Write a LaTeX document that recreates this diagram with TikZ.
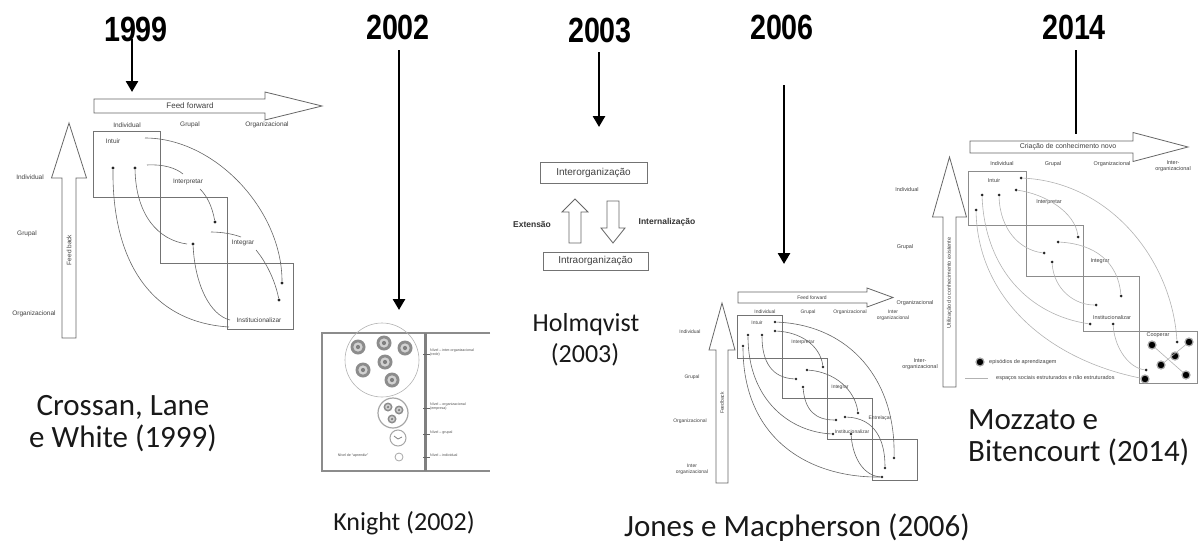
\documentclass[tikz,border=0pt]{standalone}
\usepackage{fontspec}
\usepackage{graphicx}
\setmainfont{Carlito}
\newfontfamily\yrfont{Liberation Sans}
\newfontfamily\smfont{Liberation Sans}
\usetikzlibrary{arrows.meta}
\newcommand\bkH[6]{\draw[barrow] (#1,#4-#5) -- (#2,#4-#5) -- (#2,#4-#6) -- (#3,#4) -- (#2,#4+#6) -- (#2,#4+#5) -- (#1,#4+#5) -- cycle;}
\newcommand\bkV[6]{\draw[barrow] (#1-#5,#2) -- (#1-#5,#3) -- (#1-#6,#3) -- (#1,#4) -- (#1+#6,#3) -- (#1+#5,#3) -- (#1+#5,#2) -- cycle;}
\newcommand\kfl[3]{\fill[black!45] (#1,#2) circle (#3); \fill[black!18] (#1,#2) circle (0.62*#3); \fill[black!50] (#1,#2) circle (0.28*#3);}
\begin{document}
\begin{tikzpicture}[x=1pt,y=-1pt,
  yr/.style={font=\yrfont\bfseries\fontsize{35}{35}\selectfont,inner sep=0},
  captxt/.style={font=\fontsize{31}{38}\selectfont,inner sep=0,text=black!90},
  capsm/.style={font=\fontsize{26}{31}\selectfont,inner sep=0,text=black!90},
  yarrow/.style={line width=2.6pt,-{Triangle[length=11pt,width=12pt]}},
  barrow/.style={draw=black!60,line width=0.8pt,fill=white,line join=miter},
  bx/.style={draw=black!55,line width=1pt},
  cv/.style={draw=black!60,line width=0.6pt},
  gcv/.style={draw=black!30,line width=0.6pt},
  dot/.style={circle,fill=black!85,inner sep=0,minimum size=3.2pt},
  bdot/.style={circle,fill=black,inner sep=0,minimum size=8pt,draw=black!35,line width=1.2pt},
  la/.style={font=\smfont\fontsize{6.5}{7.5}\selectfont,text=black!75,inner sep=0},
  lj/.style={font=\smfont\fontsize{5}{6}\selectfont,text=black!75,inner sep=0,align=center},
  lm/.style={font=\smfont\fontsize{5.5}{6.5}\selectfont,text=black!75,inner sep=0,align=center},
  lk/.style={font=\smfont\fontsize{3.6}{4.3}\selectfont,text=black!70,inner sep=0,align=left},
  lh/.style={font=\smfont\fontsize{10}{12}\selectfont,text=black!75,inner sep=0},
  lhb/.style={font=\smfont\bfseries\fontsize{8.5}{10}\selectfont,text=black!80,inner sep=0},
]
\useasboundingbox (0,0) rectangle (1200,544);

% ---------------- years and arrows
\node[yr] (t99) at (136,29) {\scalebox{0.82}[1]{1999}};
\node[yr] (t02) at (398,27) {\scalebox{0.82}[1]{2002}};
\node[yr] (t03) at (600,30) {\scalebox{0.82}[1]{2003}};
\node[yr] (t06) at (782,27) {\scalebox{0.82}[1]{2006}};
\node[yr] (t14) at (1074,27) {\scalebox{0.82}[1]{2014}};
\coordinate (s99) at (132,39); \coordinate (e99) at (132,92);
\coordinate (s02) at (399,50); \coordinate (e02) at (399,310);
\coordinate (s03) at (599,52); \coordinate (e03) at (599,127);
\coordinate (s06) at (784,85); \coordinate (e06) at (784,264);
\coordinate (s14) at (1076,50); \coordinate (e14) at (1076,134);
\draw[yarrow] (s99) -- (e99);
\draw[yarrow] (s02) -- (e02);
\draw[yarrow] (s03) -- (e03);
\draw[yarrow] (s06) -- (e06);
\draw[line width=2.6pt] (s14) -- (e14);

% ---------------- Crossan, Lane e White (1999)
\bkH{94}{265}{322}{106}{7}{14}
\node[la,font=\smfont\fontsize{8}{9}\selectfont] (cff) at (190,106) {Feed forward};
\node[la] (ccol1) at (127,125) {Individual};
\node[la] (ccol2) at (190,125) {Grupal};
\node[la] (ccol3) at (267,125) {Organizacional};
\bkV{69}{338}{178}{123}{7}{17.5}
\node[la,rotate=90] (cfb) at (69,250) {Feed back};
\node[la] (crow1) at (30,177) {Individual};
\node[la] (crow2) at (27,234) {Grupal};
\node[la] (crow3) at (34,314) {Organizacional};
\draw[bx] (93,131) rectangle (160,197);
\draw[bx] (160,197) rectangle (227,263);
\draw[bx] (227,263) rectangle (293,329);
\node[la] (ci1) at (113,141) {Intuir};
\node[la] (ci2) at (188,182) {Interpretar};
\node[la] (ci3) at (243,243) {Integrar};
\node[la] (ci4) at (259,320) {Institucionalizar};
\node[dot] (cd1) at (113,168) {};
\node[dot] (cd2) at (135,168) {};
\node[dot] (cd3) at (215,222) {};
\node[dot] (cd4) at (193,244) {};
\node[dot] (cd5) at (282,283) {};
\node[dot] (cd6) at (279,300) {};
\coordinate (cA) at (145,138);
\coordinate (cB1) at (147,165); \coordinate (cB2) at (183,174);
\coordinate (cC) at (200,189);
\coordinate (cD1) at (211,232); \coordinate (cD2) at (241,237);
\coordinate (cE) at (256,250);
\coordinate (cF) at (229,327);
\coordinate (cG) at (187,244);
\coordinate (cH) at (230,320);
\draw[cv] (cA) .. controls (215,138) and (282,210) .. (cd5);
\draw[cv] (cB1) .. controls (163,164) and (176,168) .. (cB2);
\draw[cv] (cC) .. controls (207,196) and (212,206) .. (cd3);
\draw[cv] (cD1) .. controls (222,232) and (233,234) .. (cD2);
\draw[cv] (cE) .. controls (266,262) and (275,280) .. (cd6);
\draw[cv] (cd1) .. controls (112,260) and (150,322) .. (cF);
\draw[cv] (cd2) .. controls (136,215) and (158,240) .. (cG);
\draw[cv] (cd4) .. controls (195,285) and (210,315) .. (cH);
\node[captxt] (cap1a) at (123,407) {Crossan, Lane};
\node[captxt] (cap1b) at (123,438) {e White (1999)};

% ---------------- Knight (2002)
\draw[draw=black!45,line width=1.8pt] (490,333) -- (322,333) -- (322,471) -- (490,471);
\draw[draw=black!50,line width=3pt] (425,333) -- (425,471);
\draw[draw=black!30,line width=0.6pt] (382,360) circle (37);
\kfl{358}{347}{7.5}
\kfl{384}{343}{7.5}
\kfl{405}{348}{7.5}
\kfl{385}{362}{7.5}
\kfl{363}{370}{7.5}
\kfl{392}{380}{7.5}
\draw[draw=black!35,line width=1.2pt] (393,413) circle (15);
\kfl{388}{407}{4.5}
\kfl{399}{410}{4.5}
\kfl{392}{419}{4.5}
\draw[draw=black!35,line width=1pt] (398,438) circle (8);
\draw[draw=black!50,line width=0.8pt] (394,436) -- (398,439) -- (402,437);
\draw[draw=black!35,line width=0.8pt] (399,457) circle (4);
\node[lk] (kn0) at (353,456) {Nível de “aprendiz”};
\foreach \yy/\tt [count=\i] in {354/{Nível – inter-organizacional\\(rede)}, 408/{Nível – organizacional\\(empresa)}, 434/{Nível – grupal}, 457/{Nível – individual}}{
  \coordinate (kt\i) at (423,\yy);
  \coordinate (ku\i) at (430,\yy);
  \draw[draw=black!60,line width=1pt] (kt\i) -- (ku\i);
  \node[lk,anchor=west] (kl\i) at (430,\yy-1.5) {\tt};
}
\node[capsm] (cap2) at (404,523) {Knight (2002)};

% ---------------- Holmqvist (2003)
\node[draw=black!55,line width=0.8pt,minimum width=107pt,minimum height=21pt,lh] (hinter) at (593.5,172.5) {Interorganização};
\node[draw=black!55,line width=0.8pt,minimum width=105pt,minimum height=18pt,lh] (hintra) at (595.5,261) {Intraorganização};
\bkV{575}{243}{212}{199}{6}{13}
\bkV{613}{201}{228}{243}{6}{12}
\node[lhb] (hext) at (532,224) {Extensão};
\node[lhb] (hint) at (667,222) {Internalização};
\node[capsm] (cap3a) at (586,325) {Holmqvist};
\node[capsm] (cap3b) at (585,355) {(2003)};

% ---------------- Jones e Macpherson (2006)
\bkH{738}{867}{893}{297.5}{5.5}{9.5}
\node[lj] (jff) at (812,297.5) {Feed forward};
\node[lj] (jcol1) at (765,312) {Individual};
\node[lj] (jcol2) at (808,312) {Grupal};
\node[lj] (jcol3) at (850,312) {Organizacional};
\node[lj] (jcol4) at (893,315) {Inter\\organizacional};
\bkV{722}{483}{350}{303}{6}{13}
\node[lj,rotate=90] (jfb) at (722,403) {Feedback};
\node[lj] (jrow1) at (690,332) {Individual};
\node[lj] (jrow2) at (692,377) {Grupal};
\node[lj] (jrow3) at (690,421) {Organizacional};
\node[lj] (jrow4) at (692,469) {Inter\\organizacional};
\draw[bx,line width=0.8pt] (737,315) rectangle (782,358);
\draw[bx,line width=0.8pt] (782,358) rectangle (827,398);
\draw[bx,line width=0.8pt] (827,398) rectangle (872,439);
\draw[bx,line width=0.8pt] (872,439) rectangle (917,480);
\node[lj] (ji1) at (757,323) {Intuir};
\node[lj] (ji2) at (803,342) {Interpretar};
\node[lj] (ji3) at (840,387) {Integrar};
\node[lj] (ji5) at (880,418) {Entrelaçar};
\node[lj] (ji4) at (852,432) {Institucionalizar};
\foreach \n/\px/\py in {1/775/322,2/775/331,3/748/335,4/762/335,5/743/346,6/823/367,7/807/370,8/796/379,9/803/387,10/858/413,11/845/417,12/836/420,13/833/434,14/851/434,15/894/458,16/885/468,17/882/477}
  \node[dot,minimum size=2.6pt] (j\n) at (\px,\py) {};
\draw[cv] (j1) .. controls (850,325) and (896,380) .. (j15);
\draw[cv] (j2) .. controls (800,332) and (820,345) .. (j6);
\draw[cv] (j7) .. controls (835,372) and (855,390) .. (j10);
\draw[cv] (j11) .. controls (875,418) and (885,440) .. (j16);
\draw[cv] (j8) .. controls (772,378) and (762,362) .. (j4);
\draw[cv] (j13) .. controls (790,432) and (748,400) .. (j3);
\draw[cv] (j17) .. controls (810,478) and (743,440) .. (j5);
\draw[cv] (j9) .. controls (805,410) and (815,420) .. (j12);
\draw[cv] (j14) .. controls (853,460) and (865,476) .. (j17);
\node[captxt] (cap4) at (797,528) {Jones e Macpherson (2006)};

% ---------------- Mozzato e Bitencourt (2014)
\bkH{970}{1133}{1188}{147}{6}{14.5}
\node[lm,font=\smfont\fontsize{7}{8}\selectfont] (mff) at (1068,147) {Criação de conhecimento novo};
\node[lm] (mcol1) at (1002,164) {Individual};
\node[lm] (mcol2) at (1053,164) {Grupal};
\node[lm] (mcol3) at (1112,164) {Organizacional};
\node[lm] (mcol4) at (1173,166) {Inter-\\organizacional};
\bkV{949.5}{387}{217}{157}{6.5}{17}
\node[lm,rotate=90] (mfb) at (949.5,283) {Utilização do conhecimento existente};
\node[lm] (mrow1) at (907,190) {Individual};
\node[lm] (mrow2) at (905,247) {Grupal};
\node[lm] (mrow3) at (915,303) {Organizacional};
\node[lm] (mrow4) at (920,364) {Inter-\\organizacional};
\draw[bx,line width=0.9pt,draw=black!45] (968,171) rectangle (1026,225);
\draw[bx,line width=0.9pt,draw=black!45] (1026,225) rectangle (1083,276);
\draw[bx,line width=0.9pt,draw=black!45] (1083,276) rectangle (1139,331);
\draw[bx,line width=0.9pt,draw=black!45] (1139,331) rectangle (1197,383);
\node[lm] (mi1) at (994,181) {Intuir};
\node[lm] (mi2) at (1049,202) {Interpretar};
\node[lm] (mi3) at (1100,261) {Integrar};
\node[lm] (mi4) at (1112,318) {Institucionalizar};
\node[lm] (mi5) at (1158,335) {Cooperar};
\foreach \n/\px/\py in {1/1021/178,2/1016/190,3/982/195,4/999/195,5/976/210,6/1078/237,7/1058/242,8/1044/253,9/1052/262,10/1121/296,11/1096/305,12/1090/324,13/1113/324,14/1177/342,15/1146/370}
  \node[dot,minimum size=3pt] (m\n) at (\px,\py) {};
\foreach \n/\px/\py in {1/1152/345,2/1189/342,3/1175/356,4/1161/365,5/1186/375,6/1145/379}
  \node[bdot] (b\n) at (\px,\py) {};
\draw[gcv] (m1) .. controls (1110,182) and (1172,260) .. (m14);
\draw[gcv] (m2) .. controls (1045,194) and (1075,212) .. (m6);
\draw[gcv] (m7) .. controls (1095,244) and (1118,262) .. (m10);
\draw[gcv] (m4) .. controls (1000,230) and (1020,250) .. (m8);
\draw[gcv] (m3) .. controls (985,270) and (1030,315) .. (m12);
\draw[gcv] (m5) .. controls (978,300) and (1050,360) .. (b6);
\draw[gcv] (m9) .. controls (1054,290) and (1075,305) .. (m11);
\draw[gcv] (m13) .. controls (1115,350) and (1130,368) .. (m15);
\draw[gcv] (b1) -- (b5);
\draw[gcv] (b2) -- (b4);
\node[bdot] (mleg1) at (980,362) {};
\node[lm,anchor=west] (mleg1t) at (989,362) {episódios de aprendizagem};
\coordinate (mleg2a) at (965,378); \coordinate (mleg2b) at (988,378);
\draw[gcv] (mleg2a) -- (mleg2b);
\node[lm,anchor=west] (mleg2t) at (996,378) {espaços sociais estruturados e não estruturados};
\node[captxt,anchor=west] (cap5a) at (968,420) {Mozzato e};
\node[captxt,anchor=west] (cap5b) at (968,452) {Bitencourt (2014)};
\end{tikzpicture}
\end{document}
